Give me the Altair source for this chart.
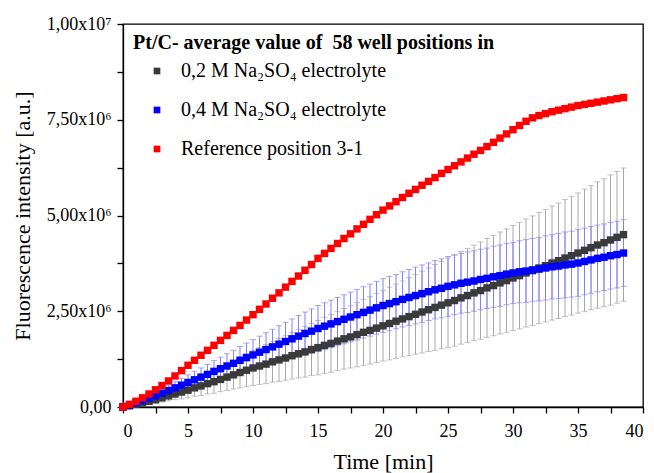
import altair as alt
import pandas as pd

# Time axis (minutes)
time_min = [0.0, 0.5, 1.0, 1.5, 2.0, 2.5, 3.0, 3.5, 4.0, 4.5,
            5.0, 5.5, 6.0, 6.5, 7.0, 7.5, 8.0, 8.5, 9.0, 9.5,
            10.0, 10.5, 11.0, 11.5, 12.0, 12.5, 13.0, 13.5, 14.0, 14.5,
            15.0, 15.5, 16.0, 16.5, 17.0, 17.5, 18.0, 18.5, 19.0, 19.5,
            20.0, 20.5, 21.0, 21.5, 22.0, 22.5, 23.0, 23.5, 24.0, 24.5,
            25.0, 25.5, 26.0, 26.5, 27.0, 27.5, 28.0, 28.5, 29.0, 29.5,
            30.0, 30.5, 31.0, 31.5, 32.0, 32.5, 33.0, 33.5, 34.0, 34.5,
            35.0, 35.5, 36.0, 36.5, 37.0, 37.5, 38.0, 38.5]

# Values in units of 1e6 a.u.
red_ref = [0.00, 0.07, 0.15, 0.24, 0.34, 0.45, 0.56, 0.68, 0.81, 0.95,
           1.09, 1.22, 1.35, 1.48, 1.61, 1.74, 1.87, 2.00, 2.13, 2.27,
           2.41, 2.55, 2.69, 2.84, 2.98, 3.13, 3.28, 3.42, 3.57, 3.72,
           3.88, 4.01, 4.14, 4.27, 4.40, 4.52, 4.65, 4.77, 4.90, 5.02,
           5.14, 5.25, 5.36, 5.47, 5.58, 5.68, 5.79, 5.89, 5.99, 6.10,
           6.20, 6.30, 6.40, 6.50, 6.60, 6.70, 6.80, 6.91, 7.02, 7.13,
           7.24, 7.35, 7.46, 7.55, 7.61, 7.66, 7.71, 7.75, 7.79, 7.83,
           7.87, 7.90, 7.93, 7.96, 7.99, 8.02, 8.05, 8.08]

gray_mean = [0.00, 0.03, 0.07, 0.11, 0.15, 0.19, 0.24, 0.29, 0.34, 0.39,
             0.44, 0.50, 0.55, 0.61, 0.66, 0.72, 0.78, 0.84, 0.90, 0.96,
             1.02, 1.07, 1.12, 1.18, 1.23, 1.28, 1.34, 1.39, 1.44, 1.50,
             1.55, 1.61, 1.66, 1.72, 1.78, 1.83, 1.89, 1.95, 2.00, 2.06,
             2.12, 2.18, 2.24, 2.30, 2.36, 2.42, 2.48, 2.54, 2.60, 2.66,
             2.72, 2.78, 2.85, 2.91, 2.98, 3.04, 3.11, 3.17, 3.24, 3.30,
             3.37, 3.43, 3.50, 3.56, 3.63, 3.69, 3.76, 3.82, 3.89, 3.95,
             4.02, 4.09, 4.16, 4.23, 4.29, 4.36, 4.43, 4.50]

gray_sd = [0.00, 0.02, 0.03, 0.05, 0.07, 0.09, 0.11, 0.13, 0.15, 0.18,
           0.20, 0.22, 0.25, 0.27, 0.30, 0.32, 0.35, 0.37, 0.40, 0.43,
           0.46, 0.48, 0.51, 0.53, 0.56, 0.58, 0.61, 0.63, 0.66, 0.68,
           0.71, 0.73, 0.75, 0.77, 0.79, 0.81, 0.84, 0.86, 0.88, 0.90,
           0.92, 0.95, 0.97, 0.99, 1.02, 1.04, 1.07, 1.09, 1.12, 1.14,
           1.17, 1.19, 1.21, 1.23, 1.25, 1.27, 1.29, 1.31, 1.33, 1.35,
           1.37, 1.39, 1.41, 1.43, 1.45, 1.47, 1.49, 1.51, 1.53, 1.55,
           1.57, 1.60, 1.62, 1.65, 1.67, 1.70, 1.72, 1.74]

blue_mean = [0.00, 0.05, 0.11, 0.17, 0.23, 0.29, 0.36, 0.43, 0.50, 0.57,
             0.64, 0.71, 0.78, 0.85, 0.93, 1.00, 1.07, 1.14, 1.22, 1.29,
             1.36, 1.43, 1.50, 1.57, 1.64, 1.71, 1.78, 1.85, 1.92, 1.98,
             2.05, 2.11, 2.17, 2.23, 2.29, 2.35, 2.41, 2.47, 2.53, 2.59,
             2.65, 2.70, 2.75, 2.81, 2.86, 2.91, 2.96, 3.01, 3.06, 3.10,
             3.15, 3.19, 3.23, 3.26, 3.29, 3.33, 3.36, 3.40, 3.43, 3.47,
             3.50, 3.53, 3.55, 3.58, 3.60, 3.63, 3.66, 3.68, 3.71, 3.73,
             3.76, 3.80, 3.84, 3.88, 3.91, 3.95, 3.98, 4.02]

blue_sd = [0.00, 0.02, 0.04, 0.06, 0.08, 0.10, 0.12, 0.14, 0.16, 0.18,
           0.20, 0.22, 0.24, 0.26, 0.28, 0.30, 0.32, 0.34, 0.36, 0.38,
           0.40, 0.42, 0.44, 0.46, 0.48, 0.50, 0.52, 0.54, 0.56, 0.58,
           0.60, 0.61, 0.62, 0.63, 0.64, 0.65, 0.66, 0.67, 0.68, 0.69,
           0.70, 0.71, 0.71, 0.72, 0.73, 0.74, 0.75, 0.75, 0.76, 0.77,
           0.78, 0.78, 0.78, 0.79, 0.79, 0.79, 0.79, 0.80, 0.80, 0.80,
           0.80, 0.81, 0.82, 0.82, 0.83, 0.84, 0.84, 0.85, 0.86, 0.86,
           0.87, 0.87, 0.87, 0.87, 0.87, 0.87, 0.87, 0.87]

series_names = ["0,2 M Na₂SO₄ electrolyte", "0,4 M Na₂SO₄ electrolyte", "Reference position 3-1"]
series_colors = ["#3a3a3a", "#0000ff", "#ff0000"]
legend_title = "Pt/C- average value of \u00a058 well positions in"

x_ticks = [0, 2.5, 5, 7.5, 10, 12.5, 15, 17.5, 20, 22.5, 25, 27.5, 30, 32.5, 35, 37.5, 40]
y_ticks = [0, 1.25e6, 2.5e6, 3.75e6, 5e6, 6.25e6, 7.5e6, 8.75e6, 1e7]

rows = []
for name, means, sds in [(series_names[0], gray_mean, gray_sd),
                         (series_names[1], blue_mean, blue_sd),
                         (series_names[2], red_ref, None)]:
    for i, t in enumerate(time_min):
        m = means[i] * 1e6
        s = sds[i] * 1e6 if sds is not None else 0.0
        rows.append({"series": name, "t": t, "y": m, "lo": m - s, "hi": m + s})
df = pd.DataFrame(rows)

FONT = "Liberation Serif"

x_axis = alt.Axis(values=x_ticks, title="Time [min]",
                  labelExpr="datum.value % 5 == 0 ? format(datum.value, 'd') : ''",
                  titlePadding=11, labelPadding=9)
y_axis = alt.Axis(values=y_ticks, title="Fluorescence intensity [a.u.]",
                  labelExpr=("datum.value == 0 ? '0,00' : datum.value == 2500000 ? '2,50x10⁶' : "
                             "datum.value == 5000000 ? '5,00x10⁶' : datum.value == 7500000 ? '7,50x10⁶' : "
                             "datum.value == 10000000 ? '1,00x10⁷' : ''"),
                  titlePadding=12, labelPadding=6)
x_scale = alt.Scale(domain=[0, 40], nice=False, zero=False)
y_scale = alt.Scale(domain=[0, 1e7], nice=False)


def X():
    return alt.X("t:Q", scale=x_scale, axis=x_axis)


def errbars(name, color):
    d = df[df["series"] == name]
    base = alt.Chart(d)
    rule = base.mark_rule(strokeWidth=1, color=color).encode(
        x=X(), y=alt.Y("lo:Q", scale=y_scale, axis=y_axis), y2="hi:Q")
    cap_lo = base.mark_tick(orient="horizontal", size=6, thickness=1, color=color).encode(
        x=X(), y=alt.Y("lo:Q", scale=y_scale, axis=y_axis))
    cap_hi = base.mark_tick(orient="horizontal", size=6, thickness=1, color=color).encode(
        x=X(), y=alt.Y("hi:Q", scale=y_scale, axis=y_axis))
    return rule + cap_lo + cap_hi


points = alt.Chart(df).mark_square(size=55, opacity=1).encode(
    x=X(),
    y=alt.Y("y:Q", scale=y_scale, axis=y_axis),
    color=alt.Color("series:N",
                    scale=alt.Scale(domain=series_names, range=series_colors),
                    sort=series_names,
                    legend=alt.Legend(orient="none", legendX=10, legendY=9,
                                      title=legend_title, titleFont=FONT, titleFontSize=20,
                                      titleFontWeight="bold", titleColor="black",
                                      labelFont=FONT, labelFontSize=20, labelColor="black",
                                      symbolType="square", symbolSize=45, symbolStrokeWidth=0,
                                      rowPadding=19, symbolOffset=14, labelOffset=14,
                                      titlePadding=8, labelLimit=600, titleLimit=700,
                                      padding=0)),
    order=alt.Order("series:N")
)

chart = alt.layer(
    errbars(series_names[0], "#a8a8a8"),
    errbars(series_names[1], "#8080ff"),
    points,
).properties(
    width=520, height=383,
    autosize=alt.AutoSizeParams(type="none"),
    padding={"left": 115, "top": 16, "right": 3, "bottom": 66},
).configure_axis(
    labelFont=FONT, labelFontSize=18, labelColor="black",
    titleFont=FONT, titleFontSize=22, titleFontWeight="normal", titleColor="black",
    domainColor="black", domainWidth=1.3, tickColor="black", tickWidth=1.3, tickSize=6,
    grid=False,
).configure_view(
    stroke="black", strokeWidth=1.3
)

chart.save("out.html", embed_options={"renderer": "svg", "actions": False})
